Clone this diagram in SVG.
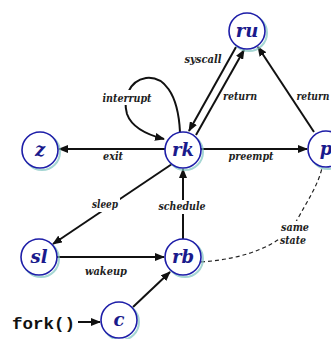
<svg xmlns="http://www.w3.org/2000/svg" width="331" height="339" viewBox="0 0 331 339">
<defs>
<style>
.node circle.sh{fill:none;stroke:#7fc4c0;stroke-width:2;opacity:0.7}
.node circle.c{fill:#fff;stroke:#1e1ea8;stroke-width:1.6}
.node text{font-family:"DejaVu Serif","Liberation Serif",serif;font-weight:bold;font-style:italic;font-size:18px;fill:#1a1a8c;text-anchor:middle}
.e{stroke:#111;stroke-width:2;fill:none;marker-end:url(#ah)}
.lbl{font-family:"DejaVu Serif Condensed","DejaVu Serif",serif;font-weight:bold;font-style:italic;font-size:10.5px;fill:#222;text-anchor:middle}
.bg{fill:#fff}
</style>
<marker id="ah" viewBox="0 0 10 8" refX="9" refY="4" markerWidth="5" markerHeight="4" orient="auto" markerUnits="strokeWidth">
<path d="M0,0 L10,4 L0,8 Z" fill="#111"/>
</marker>
</defs>
<rect width="331" height="339" fill="#fff"/>
<g id="connectors">
<path class="e" d="M236,47 L189,131"/>
<path class="e" d="M196,135 L244,50"/>
<path class="e" d="M314,132 L258,47"/>
<path class="e" d="M165,149 L59,149"/>
<path class="e" d="M201,149 L307,149"/>
<path class="e" d="M172,164 L53,244"/>
<path class="e" d="M183,239 L183,169"/>
<path class="e" d="M57,257 L164,257"/>
<path class="e" d="M133,307 L170,272"/>
<path class="e" d="M78,322 L100,322"/>
<path class="e" d="M180,132 C178,92 163,76 146,78 C128,81 123,100 127,114 C132,128 148,135 164,139"/>
<path d="M201,262 C245,259 283,245 297,220 C308,200 318,185 322,168" fill="none" stroke="#222" stroke-width="1.2" stroke-dasharray="4,3"/>
</g>
<g id="labels">
<text class="lbl" x="203" y="63" textLength="37" lengthAdjust="spacingAndGlyphs">syscall</text>
<text class="lbl" x="240" y="100" textLength="34" lengthAdjust="spacingAndGlyphs">return</text>
<text class="lbl" x="313" y="100" textLength="33" lengthAdjust="spacingAndGlyphs">return</text>
<rect class="bg" x="102" y="90" width="51" height="15"/>
<text class="lbl" x="127" y="102" textLength="49" lengthAdjust="spacingAndGlyphs">interrupt</text>
<text class="lbl" x="113" y="160" textLength="20" lengthAdjust="spacingAndGlyphs">exit</text>
<text class="lbl" x="251" y="160" textLength="45" lengthAdjust="spacingAndGlyphs">preempt</text>
<rect class="bg" x="91" y="198" width="29" height="14"/>
<text class="lbl" x="105" y="208" textLength="26" lengthAdjust="spacingAndGlyphs">sleep</text>
<rect class="bg" x="157" y="200" width="50" height="14"/>
<text class="lbl" x="182" y="210" textLength="47" lengthAdjust="spacingAndGlyphs">schedule</text>
<text class="lbl" x="106" y="275" textLength="42" lengthAdjust="spacingAndGlyphs">wakeup</text>
<rect class="bg" x="279" y="221" width="31" height="27"/>
<text class="lbl" x="295" y="231" textLength="28" lengthAdjust="spacingAndGlyphs">same</text>
<text class="lbl" x="293" y="244" textLength="26" lengthAdjust="spacingAndGlyphs">state</text>
<text x="12" y="329" font-family="'Liberation Mono','DejaVu Sans Mono',monospace" font-weight="bold" font-size="17" fill="#111" textLength="63" lengthAdjust="spacingAndGlyphs">fork()</text>
</g>
<g id="ru" class="node"><circle class="sh" cx="249" cy="33" r="18"/><circle class="c" cx="247" cy="31" r="18"/><text x="247" y="37">ru</text></g>
<g id="rk" class="node"><circle class="sh" cx="185" cy="152" r="18"/><circle class="c" cx="183" cy="150" r="18"/><text x="183" y="156">rk</text></g>
<g id="z" class="node"><circle class="sh" cx="42" cy="152" r="18"/><circle class="c" cx="40" cy="150" r="18"/><text x="40" y="156">z</text></g>
<g id="p" class="node"><circle class="sh" cx="328" cy="151" r="18"/><circle class="c" cx="326" cy="149" r="18"/><text x="326" y="155">p</text></g>
<g id="sl" class="node"><circle class="sh" cx="41" cy="259" r="18"/><circle class="c" cx="39" cy="257" r="18"/><text x="39" y="263">sl</text></g>
<g id="rb" class="node"><circle class="sh" cx="185" cy="259" r="18"/><circle class="c" cx="183" cy="257" r="18"/><text x="183" y="263">rb</text></g>
<g id="c" class="node"><circle class="sh" cx="121" cy="322" r="18"/><circle class="c" cx="119" cy="320" r="18"/><text x="119" y="326">c</text></g>
</svg>
